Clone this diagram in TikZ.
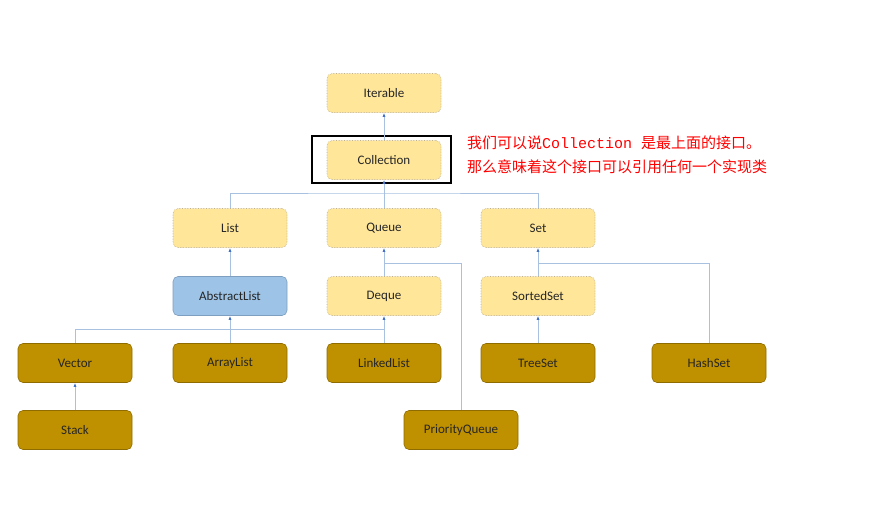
\documentclass[tikz,border=0pt]{standalone}
\usepackage{fontspec}
\setmainfont{Carlito}
\newfontfamily\cjk{Noto Sans CJK SC}
\newfontfamily\monof{Liberation Mono}
\usetikzlibrary{arrows.meta}
\definecolor{ifc}{HTML}{FFE699}
\definecolor{ifd}{HTML}{BFB08A}
\definecolor{absf}{HTML}{9DC3E6}
\definecolor{absd}{HTML}{7F9FC0}
\definecolor{clsf}{HTML}{BF9000}
\definecolor{clsd}{HTML}{8F6C00}
\definecolor{ln}{HTML}{A9C1E0}
\definecolor{arr}{HTML}{4472C4}
\begin{document}
\begin{tikzpicture}[x=1pt,y=-1pt,
  base/.style={rounded corners=5pt,minimum width=114pt,minimum height=39pt,inner sep=0pt,font=\fontsize{13}{15}\selectfont,text=black!85},
  iface/.style={base,fill=ifc,draw=ifd,densely dotted,line width=0.6pt},
  absbox/.style={base,fill=absf,draw=absd,line width=0.6pt},
  cls/.style={base,fill=clsf,draw=clsd,line width=0.6pt},
  con/.style={draw=ln,line width=0.8pt},
  arw/.style={con,-{Latex[length=4pt,width=3pt,color=arr]}}]
\useasboundingbox (0,0) rectangle (886,514);
\node[iface] (it) at (384,93) {Iterable};
\node[iface] (co) at (384,160) {Collection};
\node[iface] (li) at (230,228) {List};
\node[iface] (qu) at (384,228) {Queue};
\node[iface] (se) at (538,228) {Set};
\node[absbox] (al) at (230,296) {AbstractList};
\node[iface] (de) at (384,296) {Deque};
\node[iface] (ss) at (538,296) {SortedSet};
\node[cls] (ve) at (75,363) {Vector};
\node[cls] (ar) at (230,363) {ArrayList};
\node[cls] (ll) at (384,363) {LinkedList};
\node[cls] (ts) at (538,363) {TreeSet};
\node[cls] (hs) at (709,363) {HashSet};
\node[cls] (st) at (75,430) {Stack};
\node[cls] (pq) at (461,430) {PriorityQueue};
\node[draw=black,line width=2pt,minimum width=139pt,minimum height=47pt] (fr) at (381.5,159.5) {};
\node[anchor=north west,align=left,text=red,inner sep=0pt,font=\fontsize{15}{24}\selectfont] (tx) at (467,136)
 {{\cjk 我们可以说}{\monof Collection }{\cjk 是最上面的接口。}\\{\cjk 那么意味着这个接口可以引用任何一个实现类}};
% connectors
\draw[arw] (co.north) -- (it.south);
\draw[arw] (qu.north) -- (co.south);
\draw[con] (li.north) |- (384,193) -| (se.north);
\draw[arw] (al.north) -- (li.south);
\draw[arw] (de.north) -- (qu.south);
\draw[con] (pq.north) |- (384,263);
\draw[arw] (ss.north) -- (se.south);
\draw[con] (hs.north) |- (538,263);
\draw[con] (ve.north) |- (384,329);
\draw[arw] (ar.north) -- (al.south);
\draw[arw] (ll.north) -- (de.south);
\draw[arw] (ts.north) -- (ss.south);
\draw[arw] (st.north) -- (ve.south);
\end{tikzpicture}
\end{document}
